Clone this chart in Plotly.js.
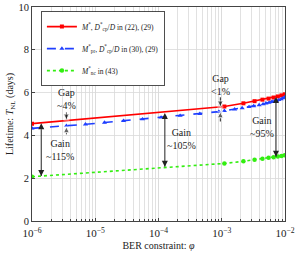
<!DOCTYPE html>
<html><head><meta charset="utf-8">
<script src="https://cdn.plot.ly/plotly-3.0.1.min.js"></script>
<style>html,body{margin:0;padding:0;background:#fff;}#chart{width:303px;height:256px;}</style>
</head><body><div id="chart"></div>
<script>
// Data
const xMain = [1e-6, 1.1e-3, 2.2e-3, 3.3e-3, 4.4e-3, 5.5e-3, 6.6e-3, 7.7e-3, 8.8e-3, 9.9e-3];
const yOpt  = [4.55, 5.35, 5.50, 5.60, 5.67, 5.72, 5.77, 5.82, 5.87, 5.92];
const yNc   = [2.07, 2.69, 2.79, 2.86, 2.91, 2.95, 2.98, 3.01, 3.04, 3.07];
const xPr = [1e-6, 1.4e-6, 3.5e-6, 7e-6, 1.4e-5, 2.8e-5, 5.6e-5, 1.1e-4, 2.2e-4, 4.5e-4, 9e-4,
             1.1e-3, 1.6e-3, 2.1e-3, 2.7e-3, 3.2e-3, 3.9e-3, 4.5e-3, 5e-3, 5.6e-3, 6.2e-3,
             6.8e-3, 7.4e-3, 8e-3, 8.7e-3, 9.3e-3, 1e-2];
const yPr = [4.33, 4.36, 4.45, 4.52, 4.60, 4.68, 4.76, 4.84, 4.92, 5.01, 5.11,
             5.15, 5.22, 5.28, 5.33, 5.37, 5.42, 5.46, 5.50, 5.53, 5.57,
             5.60, 5.63, 5.66, 5.70, 5.74, 5.79];
const tickVals = [1e-6, 1e-5, 1e-4, 1e-3, 1e-2];
const tickText = ['10<sup>−6</sup>','10<sup>−5</sup>','10<sup>−4</sup>','10<sup>−3</sup>','10<sup>−2</sup>'];
const yTicks = [0, 2, 4, 6, 8, 10];
// Gain arrows (x, top, bottom) and labels
const gainX   = [1.4e-6, 1.26e-4, 7.2e-3];
const gainTop = [4.57, 5.05, 5.80];
const gainBot = [2.10, 2.54, 3.00];
const gainLabels = ['Gain<br>~115%', 'Gain<br>~105%', 'Gain<br>~95%'];
const gainLabelX = [2.8e-6, 2.3e-4, 4.3e-3];
const gainLabelY = [3.34, 3.83, 4.39];
// Gap arrows (x, red value, blue value) and labels
const gapX   = [3.5e-6, 9.5e-4];
const gapRed = [4.72, 5.33];
const gapBlue= [4.40, 5.10];
const gapLen = [0.35, 0.45];
const gapLabels = ['Gap<br>~4%', 'Gap<br>&lt;1%'];
const gapLabelY = [5.70, 6.35];

const serif = 'Liberation Serif, Times New Roman, serif';
const arrowCol = '#222';
const traces = [
  {x: xMain, y: yOpt, mode: 'lines+markers', name: '<i>M</i><sup>*</sup>, <i>D</i><sup>*</sup><sub>cp</sub>/<i>D</i> in (22), (29)',
   line: {color: '#ff0000', width: 1.6}, marker: {symbol: 'square', size: 4, color: '#ff0000'}, legendgroup: 'a'},
  {x: xPr, y: yPr, mode: 'lines+markers', name: '<i>M</i><sup>*</sup><sub>pr</sub>, <i>D</i><sup>*</sup><sub>cp</sub>/<i>D</i> in (30), (29)',
   line: {color: '#1f3fff', width: 1.6, dash: 'dash'}, marker: {symbol: 'triangle-up', size: 4.5, color: '#1f3fff'}, legendgroup: 'b'},
  {x: xMain, y: yNc, mode: 'lines+markers', name: '<i>M</i><sup>*</sup><sub>nc</sub> in (43)',
   line: {color: '#33ee11', width: 1.6, dash: 'dot'}, marker: {symbol: 'circle', size: 4.5, color: '#33ee11'}, legendgroup: 'c'}
];
for (let i = 0; i < gainX.length; i++) {
  traces.push({x: [gainX[i], gainX[i]], y: [gainBot[i], gainTop[i]], mode: 'lines+markers', showlegend: false, hoverinfo: 'skip',
    line: {color: arrowCol, width: 1}, marker: {symbol: ['arrow-bar-down', 'arrow-bar-up'], size: 6, color: arrowCol}});
}
for (let i = 0; i < gapX.length; i++) {
  traces.push({x: [gapX[i], gapX[i]], y: [gapRed[i] + gapLen[i], gapRed[i]], mode: 'lines+markers', showlegend: false, hoverinfo: 'skip',
    line: {color: arrowCol, width: 1}, marker: {symbol: ['circle', 'arrow-bar-down'], size: [0, 6], color: arrowCol}});
  traces.push({x: [gapX[i], gapX[i]], y: [gapBlue[i] - gapLen[i], gapBlue[i]], mode: 'lines+markers', showlegend: false, hoverinfo: 'skip',
    line: {color: arrowCol, width: 1}, marker: {symbol: ['circle', 'arrow-bar-up'], size: [0, 6], color: arrowCol}});
}
const annotations = [];
for (let i = 0; i < gainX.length; i++) {
  annotations.push({x: Math.log10(gainLabelX[i]), y: gainLabelY[i], text: gainLabels[i], showarrow: false,
    font: {family: serif, size: 10, color: '#222'}});
}
for (let i = 0; i < gapX.length; i++) {
  annotations.push({x: Math.log10(gapX[i]), y: gapLabelY[i], text: gapLabels[i], showarrow: false,
    font: {family: serif, size: 10, color: '#222'}});
}
const layout = {
  width: 303, height: 256,
  margin: {l: 32, r: 18, t: 7, b: 35},
  paper_bgcolor: '#fff', plot_bgcolor: '#fff',
  font: {family: serif, size: 11, color: '#222'},
  showlegend: true,
  legend: {x: 0.036, y: 0.98, xanchor: 'left', yanchor: 'top', bgcolor: '#fff', bordercolor: '#222', borderwidth: 0.8,
    font: {family: serif, size: 7.5, color: '#222'}, tracegroupgap: 3, itemwidth: 30},
  xaxis: {type: 'log', range: [-6, -2], tickvals: tickVals, ticktext: tickText, showgrid: true, gridcolor: '#d9d9d9', gridwidth: 0.8,
    minor: {dtick: 'D1', showgrid: true, gridcolor: '#d9d9d9', gridwidth: 0.8, ticks: 'inside', ticklen: 2, tickcolor: '#444'},
    ticks: 'inside', ticklen: 3, tickcolor: '#444', ticklabelstandoff: 2,
    showline: true, mirror: true, linecolor: '#444', linewidth: 1, zeroline: false,
    tickfont: {family: serif, size: 11}, title: {text: 'BER constraint: <i>φ</i>', font: {family: serif, size: 10}, standoff: 3}},
  yaxis: {range: [0, 10], tickvals: yTicks, showgrid: true, gridcolor: '#d9d9d9', gridwidth: 0.8,
    ticks: 'inside', ticklen: 3, tickcolor: '#444',
    showline: true, mirror: true, linecolor: '#444', linewidth: 1, zeroline: false,
    tickfont: {family: serif, size: 10.5}, title: {text: 'Lifetime: <i>T</i><sub>NL</sub> (days)', font: {family: serif, size: 10}, standoff: 2}},
  annotations: annotations
};
Plotly.newPlot('chart', traces, layout, {displayModeBar: false, staticPlot: true});
</script></body></html>
